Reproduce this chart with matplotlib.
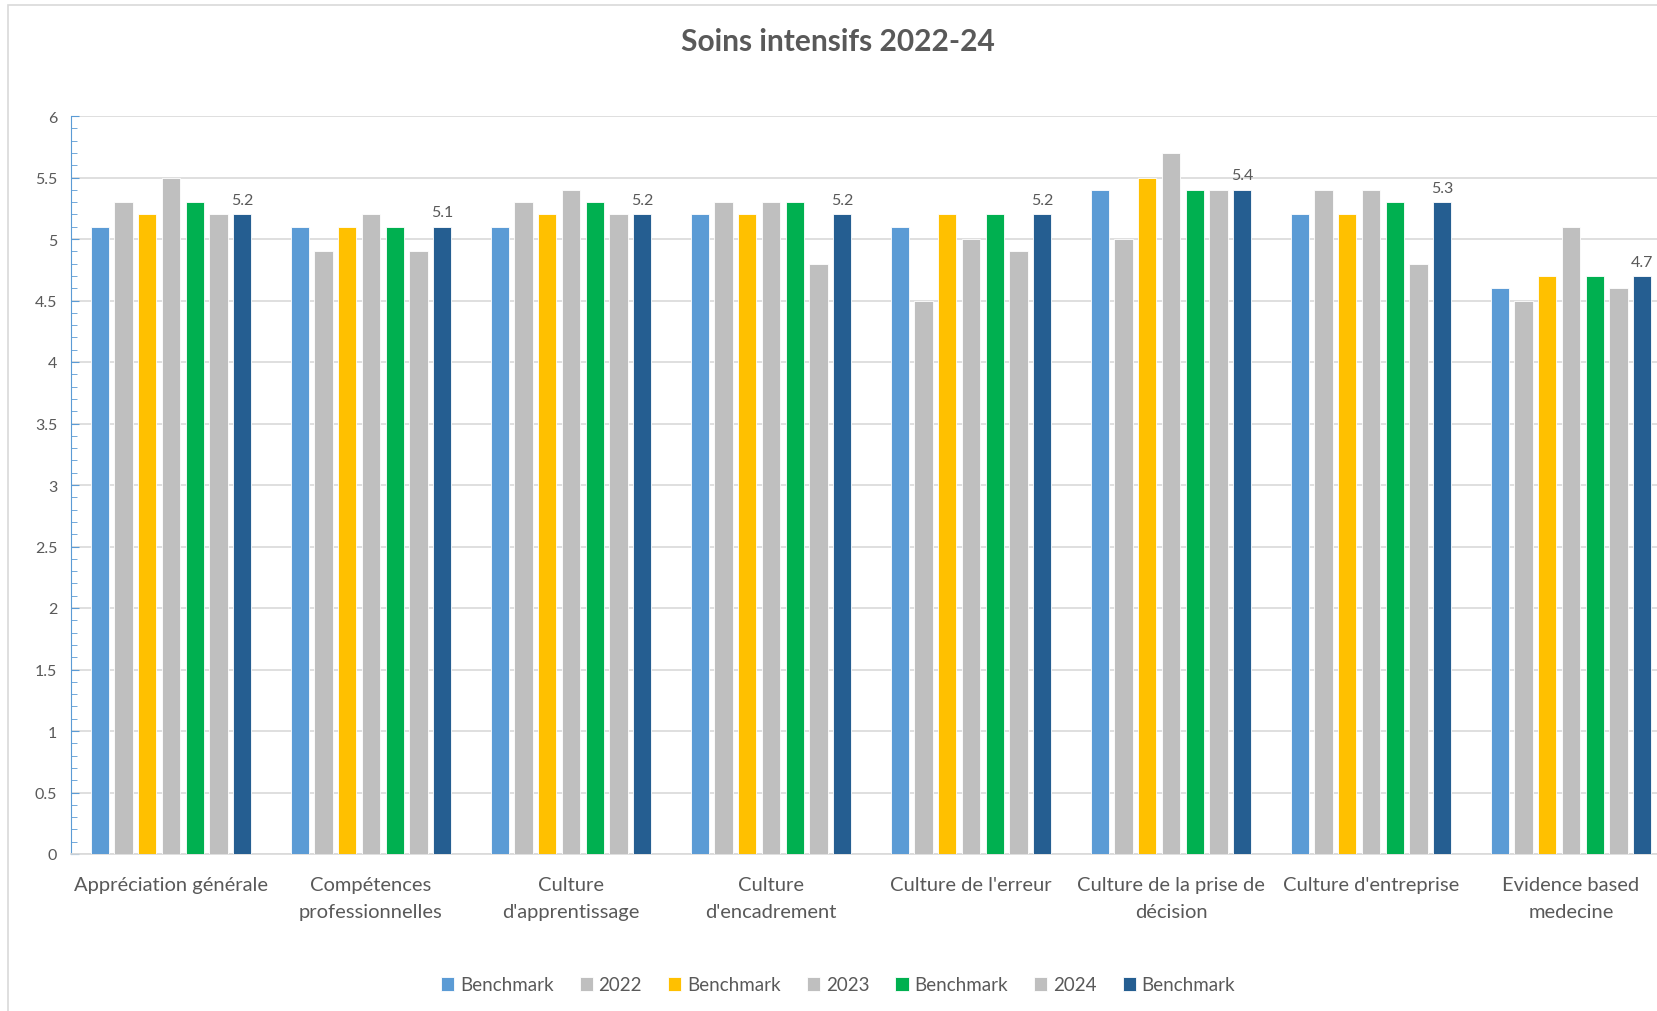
import numpy as np
import matplotlib.pyplot as plt
from matplotlib.patches import Rectangle
from matplotlib.ticker import MultipleLocator, StrMethodFormatter

plt.rcParams['font.family'] = ['Lato', 'DejaVu Sans']

# Data
categories = ["Appréciation générale", "Compétences\nprofessionnelles", "Culture\nd'apprentissage",
              "Culture\nd'encadrement", "Culture de l'erreur", "Culture de la prise de\ndécision",
              "Culture d'entreprise", "Evidence based\nmedecine"]
series_names = ["Benchmark", "2022", "Benchmark", "2023", "Benchmark", "2024", "Benchmark"]
bench_a = [5.1, 5.1, 5.1, 5.2, 5.1, 5.4, 5.2, 4.6]
y2022 = [5.3, 4.9, 5.3, 5.3, 4.5, 5.0, 5.4, 4.5]
bench_b = [5.2, 5.1, 5.2, 5.2, 5.2, 5.5, 5.2, 4.7]
y2023 = [5.5, 5.2, 5.4, 5.3, 5.0, 5.7, 5.4, 5.1]
bench_c = [5.3, 5.1, 5.3, 5.3, 5.2, 5.4, 5.3, 4.7]
y2024 = [5.2, 4.9, 5.2, 4.8, 4.9, 5.4, 4.8, 4.6]
bench_d = [5.2, 5.1, 5.2, 5.2, 5.2, 5.4, 5.3, 4.7]

series = [bench_a, y2022, bench_b, y2023, bench_c, y2024, bench_d]
colors = ["#5B9BD5", "#BFBFBF", "#FFC000", "#BFBFBF", "#00B050", "#BFBFBF", "#255E91"]
txt = "#595959"

fig = plt.figure(figsize=(16.57, 10.12), dpi=100)
fig.patches.append(Rectangle((8 / 1657, -0.01), 1.1, 1 - 6 / 1012 + 0.01, transform=fig.transFigure,
                             fill=False, edgecolor="#D9D9D9", linewidth=1.2))

ax = fig.add_axes([71 / 1657, 1 - 855 / 1012, 1600 / 1657, 738 / 1012])
x = np.arange(len(categories))
step = 0.1185
width = 0.0915
for j, (vals, c) in enumerate(zip(series, colors)):
    bars = ax.bar(x + (j - 3) * step, vals, width, color=c, edgecolor="white", linewidth=0.6,
                  label=series_names[j], zorder=3)
    if j == len(series) - 1:
        for b, v in zip(bars, vals):
            ax.text(b.get_x() + b.get_width() / 2, v + 0.06, f"{v:.1f}", ha="center", va="bottom",
                    fontsize=11.5, color=txt)

ax.set_xlim(-0.5, len(categories) - 0.5)
ax.set_ylim(0, 6)
ax.yaxis.set_major_locator(MultipleLocator(0.5))
ax.yaxis.set_minor_locator(MultipleLocator(0.1))
ax.yaxis.set_major_formatter(StrMethodFormatter("{x:g}"))
ax.grid(axis="y", color="#D9D9D9", linewidth=1.2, zorder=0)
ax.set_xticks(x)
ax.set_xticklabels(categories, fontsize=14.5, color=txt, linespacing=1.7)
ax.tick_params(axis="x", length=0, pad=16)
ax.tick_params(axis="y", which="both", direction="in", color="#5B9BD5", labelsize=11.5, labelcolor=txt, pad=10)
ax.tick_params(axis="y", which="major", length=6)
ax.tick_params(axis="y", which="minor", length=4)
for s in ["top", "right"]:
    ax.spines[s].set_visible(False)
ax.spines["left"].set_color("#5B9BD5")
ax.spines["bottom"].set_color("#D9D9D9")
ax.spines["bottom"].set_linewidth(1.2)

fig.text(838 / 1657, 1 - 42 / 1012, "Soins intensifs 2022-24", ha="center", va="center",
         fontsize=21.5, fontweight="bold", color=txt)

leg = fig.legend(loc="center", bbox_to_anchor=(838 / 1657, 1 - 986 / 1012), ncol=7, frameon=False,
                 fontsize=13.5, handlelength=0.7, handleheight=0.7, handletextpad=0.3, columnspacing=1.4)
for t in leg.get_texts():
    t.set_color(txt)

fig.savefig("out.png", dpi=100)
